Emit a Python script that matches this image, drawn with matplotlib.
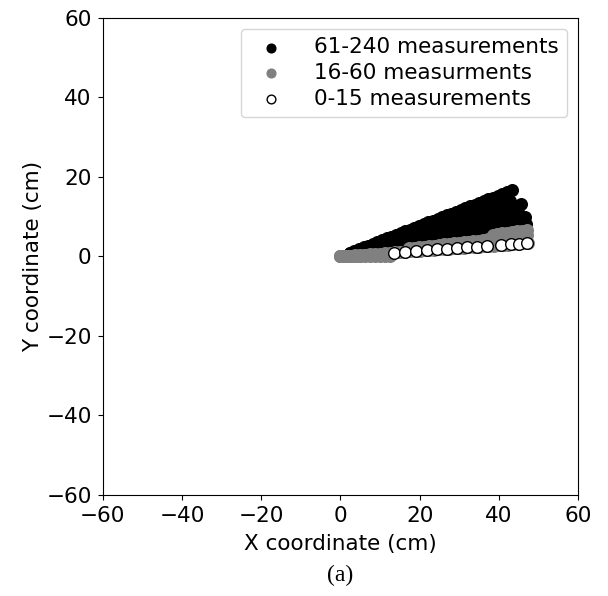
import numpy as np
import matplotlib.pyplot as plt

# radial steps (cm) along each measurement ray
radii = [0, 1.25, 2.5, 3.75, 5, 6.25, 7.5, 8.75, 10, 11.25, 12.5, 13.75,
         15, 16.25, 17.5, 18.75, 20, 21.25, 22.5, 23.75, 25, 26.25, 27.5,
         28.75, 30, 31.25, 32.5, 33.75, 35, 36.25, 37.5, 38.75, 40, 41.25,
         42.5, 43.75, 45, 46.25, 47.5]

# rays: (angle in degrees, first radius, last radius)
high_rays = [(6, 2.5, 12.5), (8, 2.5, 37.5), (10, 2.5, 47.5), (12, 2.5, 47.5),
             (14, 2.5, 46.25), (16, 2.5, 47.5), (18, 2.5, 45), (21, 2.5, 46.25)]
mid_rays = [(0, 0, 12.5), (2, 0, 12.5), (4, 0, 47.5), (6.5, 17.5, 47.5),
            (8, 38.75, 47.5)]

# open circles along the 4 degree ray
low_angle = 4
low_r = [13.6, 16.4, 19.2, 22.0, 24.5, 27.0, 29.5, 32.1, 34.6, 37.1,
         40.7, 43.2, 45.2, 47.3]


def rays_to_xy(rays):
    xs, ys = [], []
    for ang, r0, r1 in rays:
        a = np.deg2rad(ang)
        for r in radii:
            if r0 <= r <= r1:
                xs.append(r * np.cos(a))
                ys.append(r * np.sin(a))
    return xs, ys


hx, hy = rays_to_xy(high_rays)
mx, my = rays_to_xy(mid_rays)
lx = [r * np.cos(np.deg2rad(low_angle)) for r in low_r]
ly = [r * np.sin(np.deg2rad(low_angle)) for r in low_r]

fig = plt.figure(figsize=(6.08, 5.96), dpi=100)
ax = fig.add_axes([0.169, 0.170, 0.782, 0.800])

ms = 70
h1 = ax.scatter(hx, hy, s=ms, c='black', label='61-240 measurements')
h2 = ax.scatter(mx, my, s=ms, c='#808080', label='16-60 measurments')
h3 = ax.scatter(lx, ly, s=ms, facecolors='white', edgecolors='black',
                linewidths=1, label='0-15 measurements')

ax.set_xlim(-60, 60)
ax.set_ylim(-60, 60)
ax.set_xticks(range(-60, 61, 20))
ax.set_yticks(range(-60, 61, 20))
ax.tick_params(labelsize=15.5, pad=4.5)
ax.set_xlabel('X coordinate (cm)', fontsize=15.5, labelpad=6)
ax.set_ylabel('Y coordinate (cm)', fontsize=15.5, labelpad=2)
ax.legend(handles=[h1, h2, h3], loc='upper right', fontsize=15.5,
          markerscale=0.75, labelspacing=0.27, borderaxespad=0.5,
          handletextpad=1.0)

fig.text(0.56, 0.035, '(a)', fontsize=17, family='Liberation Serif',
         ha='center', va='center')

fig.savefig('out.png', dpi=100)
